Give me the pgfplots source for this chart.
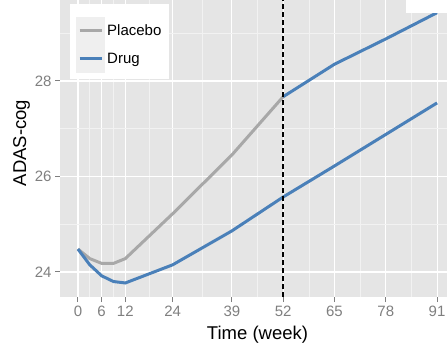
\documentclass[border=0pt]{standalone}
\usepackage{fontspec}
\setmainfont{Liberation Sans}
\usepackage{pgfplots}
\pgfplotsset{compat=1.18}

\definecolor{panel}{HTML}{E5E5E5}
\definecolor{minorgrid}{HTML}{F2F2F2}
\definecolor{keybg}{HTML}{EFEFEF}
\definecolor{ticktext}{HTML}{7F7F7F}
\definecolor{placebo}{HTML}{A8A8A8}
\definecolor{drug}{HTML}{4A80B9}

\begin{document}
\begin{tikzpicture}[x=1bp,y=1bp]
\useasboundingbox (0,0) rectangle (447,344);
\begin{scope}
\clip (0,0) rectangle (447,344);
\begin{axis}[
  at={(60bp,47bp)}, anchor=south west,
  scale only axis, width=395bp, height=308.2bp,
  xmin=-4.55, xmax=95.55, ymin=23.476, ymax=29.93,
  axis background/.style={fill=panel},
  axis line style={draw=none},
  xtick={0,6,12,24,39,52,65,78,91},
  ytick={24,26,28},
  minor xtick={3,9,18,31.5,45.5,58.5,71.5,84.5},
  minor ytick={25,27,29},
  grid=both,
  major grid style={white, line width=1.1bp},
  minor grid style={minorgrid, line width=0.6bp},
  tick align=outside,
  xtick pos=left, ytick pos=left,
  major tick length=5bp, minor tick length=0pt,
  major tick style={ticktext, line width=1bp},
  tick label style={font=\fontsize{15bp}{15bp}\selectfont, text=ticktext},
  /pgf/number format/assume math mode=true,
  xlabel={Time (week)},
  ylabel={ADAS-cog},
  label style={font=\fontsize{18.5bp}{18.5bp}\selectfont, text=black},
  xlabel style={at={(axis description cs:0.5,-0.1363)}, anchor=base},
  ylabel style={at={(axis description cs:-0.086,0.5)}, anchor=base, rotate=0},
  legend cell align=left,
  legend style={at={(axis description cs:0.0253,0.9507)}, anchor=north west,
    draw=none, fill=white, inner xsep=6bp, inner ysep=6.5bp, row sep=0bp,
    font=\fontsize{15bp}{15bp}\selectfont,
    nodes={inner xsep=2bp, inner ysep=1bp}},
  legend image code/.code={
    \fill[keybg] (0bp,-12.5bp) rectangle (26bp,12.5bp);
    \draw[#1, line cap=butt] (2bp,0bp) -- (24bp,0bp);
  },
]
% spacer row at the top of the key box
\addlegendimage{legend image code/.code={\path[draw=none, fill=none] (0bp,0bp) rectangle (26bp,4.5bp);}}
\addlegendentry{}

\addplot[placebo, line width=3bp] coordinates {
  (0,24.48) (3,24.28) (6,24.18) (9,24.18) (12,24.28)
  (24,25.22) (39,26.45) (52,27.67)
};
\addlegendentry{Placebo}

\addplot[drug, line width=3bp] coordinates {
  (0,24.48) (3,24.15) (6,23.92) (9,23.80) (12,23.77)
  (24,24.15) (39,24.86) (52,25.57) (65,26.22) (78,26.88) (91,27.54)
};
\addlegendentry{Drug}

% delayed start: placebo group switched to drug after week 52
\addplot[drug, line width=3bp, forget plot] coordinates {
  (52,27.67) (65,28.35) (78,28.88) (91,29.43)
};

\addplot[black, line width=1.4bp, dash pattern=on 5bp off 3bp, forget plot]
  coordinates {(52,23.476) (52,29.93)};
\end{axis}
\fill[white] (406,331) rectangle (447,344);
\end{scope}
\end{tikzpicture}
\end{document}
